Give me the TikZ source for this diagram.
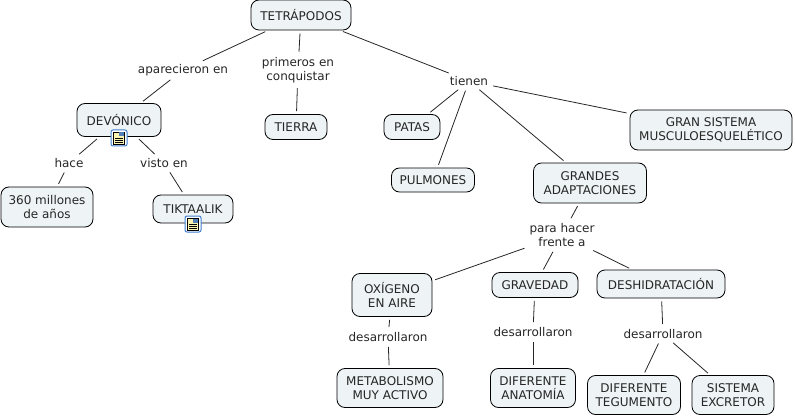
\documentclass[tikz,border=0pt]{standalone}
\usepackage{fontspec}
\setmainfont{DejaVu Sans}
\usepackage{tikz}
\usetikzlibrary{positioning}
\definecolor{conceptfill}{HTML}{EEF4F6}
\definecolor{iconblue}{HTML}{3F7FD0}
\definecolor{iconpage}{HTML}{FBF3B0}
\tikzset{
  concept/.style={draw=black, fill=conceptfill, rounded corners=8pt, align=center, line width=0.8pt, inner sep=0pt, text=black!85, font=\fontsize{12}{14.5}\selectfont},
  phrase/.style={align=center, inner sep=2pt, text=black!85, font=\fontsize{12}{14.5}\selectfont},
  link/.style={line width=0.8pt, black!85, shorten <=3pt, shorten >=3pt},
  docicon/.style={draw=iconblue, fill=white, rounded corners=2pt, line width=1pt, minimum size=16pt, inner sep=0pt}
}
\newcommand{\pageicon}[1]{
  \fill[iconpage, draw=black, line width=0.5pt] ([shift={(-5.5pt,-6pt)}]#1.center) rectangle ([shift={(5.5pt,6pt)}]#1.center);
  \foreach \ypos in {-4,-2,0} \draw[black, line width=0.6pt] ([shift={(-4pt,\ypos pt)}]#1.center) -- ([shift={(4pt,\ypos pt)}]#1.center);
  \fill[iconblue!70!gray] ([shift={(0pt,1.5pt)}]#1.center) rectangle ([shift={(5pt,5.5pt)}]#1.center);
}
\begin{document}
\begin{tikzpicture}[on grid, x=1pt, y=1pt]
  \useasboundingbox (0,0) rectangle (795,-417);
  \node[concept, minimum width=100pt, minimum height=30pt] (tetra) at (301,-15) {TETRÁPODOS};
  % left branch
  \node[phrase, below left=55pt and 118pt of tetra] (appeared) {aparecieron en};
  \node[concept, minimum width=84pt, minimum height=33pt, below left=50pt and 64pt of appeared] (devonico) {DEVÓNICO};
  \node[phrase, below left=43pt and 50pt of devonico] (hace) {hace};
  \node[phrase, below right=43pt and 45pt of devonico] (visto) {visto en};
  \node[concept, minimum width=92pt, minimum height=40pt, below left=44pt and 22pt of hace] (millones) {360 millones\\de años};
  \node[concept, minimum width=80pt, minimum height=28pt, below right=46pt and 29pt of visto] (tiktaalik) {TIKTAALIK};
  \node[docicon, below=18pt of devonico] (iconA) {};
  \node[docicon, below=15pt of tiktaalik] (iconB) {};
  \pageicon{iconA}
  \pageicon{iconB}
  % middle branch
  \node[phrase, below left=55pt and 3pt of tetra] (primeros) {primeros en\\conquistar};
  \node[concept, minimum width=62pt, minimum height=25pt, below left=57pt and 2pt of primeros] (tierra) {TIERRA};
  % right branch
  \node[phrase, below right=66pt and 168pt of tetra] (tienen) {tienen};
  \node[concept, minimum width=56pt, minimum height=25pt, below left=46pt and 57pt of tienen] (patas) {PATAS};
  \node[concept, minimum width=83pt, minimum height=24pt, below left=99pt and 36pt of tienen] (pulmones) {PULMONES};
  \node[concept, minimum width=113pt, minimum height=40pt, below right=102pt and 121pt of tienen] (grandes) {GRANDES\\ADAPTACIONES};
  \node[concept, minimum width=162pt, minimum height=40pt, below right=49pt and 242pt of tienen] (musculo) {GRAN SISTEMA\\MUSCULOESQUELÉTICO};
  \node[phrase, below left=52pt and 28pt of grandes] (frente) {para hacer\\frente a};
  \node[concept, minimum width=80pt, minimum height=43pt, below left=60pt and 170pt of frente] (oxigeno) {OXÍGENO\\EN AIRE};
  \node[concept, minimum width=86pt, minimum height=25pt, below left=50pt and 27pt of frente] (gravedad) {GRAVEDAD};
  \node[concept, minimum width=128pt, minimum height=28pt, below right=49pt and 99pt of frente] (deshidra) {DESHIDRATACIÓN};
  \node[phrase, below left=42pt and 4pt of oxigeno] (desA) {desarrollaron};
  \node[phrase, below left=47pt and 2pt of gravedad] (desB) {desarrollaron};
  \node[phrase, below right=50pt and 2pt of deshidra] (desC) {desarrollaron};
  \node[concept, minimum width=106pt, minimum height=39pt, below right=51pt and 2pt of desA] (metabolismo) {METABOLISMO\\MUY ACTIVO};
  \node[concept, minimum width=85pt, minimum height=39pt, below=56pt of desB] (anatomia) {DIFERENTE\\ANATOMÍA};
  \node[concept, minimum width=93pt, minimum height=39pt, below left=61pt and 29pt of desC] (tegumento) {DIFERENTE\\TEGUMENTO};
  \node[concept, minimum width=82pt, minimum height=39pt, below right=61pt and 70pt of desC] (excretor) {SISTEMA\\EXCRETOR};
  % links
  \draw[link] (tetra) -- (appeared);
  \draw[link] (appeared) -- (devonico);
  \draw[link] (devonico) -- (hace);
  \draw[link] (hace) -- (millones);
  \draw[link] (devonico) -- (visto);
  \draw[link] (visto) -- (tiktaalik);
  \draw[link] (tetra) -- (primeros);
  \draw[link] (primeros) -- (tierra);
  \draw[link] (tetra) -- (tienen);
  \draw[link] (tienen) -- (patas);
  \draw[link] (tienen) -- (pulmones);
  \draw[link] (tienen) -- (grandes);
  \draw[link] (tienen) -- (musculo);
  \draw[link] (grandes) -- (frente);
  \draw[link] (frente) -- (oxigeno);
  \draw[link] (frente) -- (gravedad);
  \draw[link] (frente) -- (deshidra);
  \draw[link] (oxigeno) -- (desA);
  \draw[link] (desA) -- (metabolismo);
  \draw[link] (gravedad) -- (desB);
  \draw[link] (desB) -- (anatomia);
  \draw[link] (deshidra) -- (desC);
  \draw[link] (desC) -- (tegumento);
  \draw[link] (desC) -- (excretor);
\end{tikzpicture}
\end{document}
